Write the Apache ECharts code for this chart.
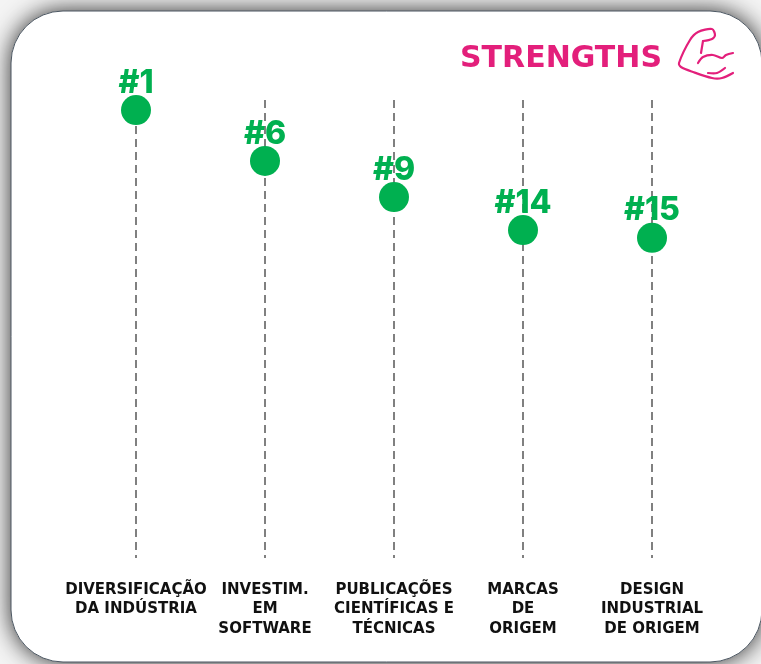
<!DOCTYPE html>
<html>
<head>
<meta charset="utf-8">
<style>
  html, body { margin: 0; padding: 0; background: #f4f4f4; }
  #chart { width: 761px; height: 664px; }
</style>
<script src="https://cdn.jsdelivr.net/npm/echarts@6/dist/echarts.min.js"></script>
</head>
<body>
<div id="chart"></div>
<script>
const categorias = [
  "DIVERSIFICAÇÃO\nDA INDÚSTRIA",
  "INVESTIM.\nEM\nSOFTWARE",
  "PUBLICAÇÕES\nCIENTÍFICAS E\nTÉCNICAS",
  "MARCAS\nDE\nORIGEM",
  "DESIGN\nINDUSTRIAL\nDE ORIGEM",
];
const ranks = ["#1", "#6", "#9", "#14", "#15"];
// altura relativa de cada ponto
const alturas = [97.8, 86.7, 78.8, 71.6, 69.9];

const fonte = "DejaVu Sans";
const fonteRank = "Inter";
const verde = "#00B050";
const rosa = "#E31F7B";

const frame = { x: 11, y: 11, width: 751, height: 651, r: 52 };
const braco = { fill: null, stroke: rosa, lineWidth: 2.2, lineCap: "round", lineJoin: "round" };

const chart = echarts.init(document.getElementById("chart"));
chart.setOption({
  animation: false,
  title: {
    text: "STRENGTHS",
    left: 455,
    top: 39,
    textStyle: { fontFamily: fonte, fontSize: 30, fontWeight: "bold", color: rosa },
  },
  grid: { left: 71.5, right: 44.5, top: 100, bottom: 106 },
  xAxis: {
    type: "category",
    data: categorias,
    axisLine: { show: false },
    axisTick: { show: false },
    axisLabel: {
      interval: 0,
      margin: 22,
      fontFamily: fonte,
      fontSize: 15,
      fontWeight: "bold",
      lineHeight: 19.5,
      color: "#111111",
      verticalAlign: "top",
    },
    splitLine: {
      show: true,
      alignWithLabel: true,
      lineStyle: { color: "#808080", width: 2, type: [8, 5] },
    },
  },
  yAxis: { type: "value", min: 0, max: 100, show: false },
  series: [
    {
      type: "scatter",
      data: alturas,
      symbolSize: 30,
      itemStyle: { color: verde, opacity: 1 },
      label: {
        show: true,
        position: "top",
        distance: -4,
        fontFamily: fonteRank,
        fontSize: 32,
        fontWeight: 800,
        color: verde,
        formatter: (p) => ranks[p.dataIndex],
      },
    },
  ],
  graphic: [
    {
      type: "rect",
      z: -11,
      shape: frame,
      style: { fill: "#ffffff", shadowBlur: 24, shadowColor: "rgba(0,0,0,0.85)" },
    },
    {
      type: "rect",
      z: -10,
      shape: frame,
      style: { fill: "#ffffff", stroke: "#4a5560", lineWidth: 1 },
    },
    {
      type: "polyline",
      z: 10,
      shape: {
        smooth: 0.3,
        points: [[733, 73], [722, 78], [712, 78], [693, 72], [681, 67], [679, 63], [690, 40], [698, 32], [712, 29], [715, 35], [712, 39], [703, 41]],
      },
      style: braco,
    },
    { type: "line", z: 10, shape: { x1: 703, y1: 41, x2: 701, y2: 53 }, style: braco },
    {
      type: "polyline",
      z: 10,
      shape: { smooth: 0.3, points: [[698, 63], [703, 57], [713, 55], [722, 58], [726, 55], [733, 53]] },
      style: braco,
    },
    {
      type: "polyline",
      z: 10,
      shape: { smooth: 0.3, points: [[708, 73], [717, 73], [725, 68]] },
      style: braco,
    },
  ],
});
</script>
</body>
</html>
